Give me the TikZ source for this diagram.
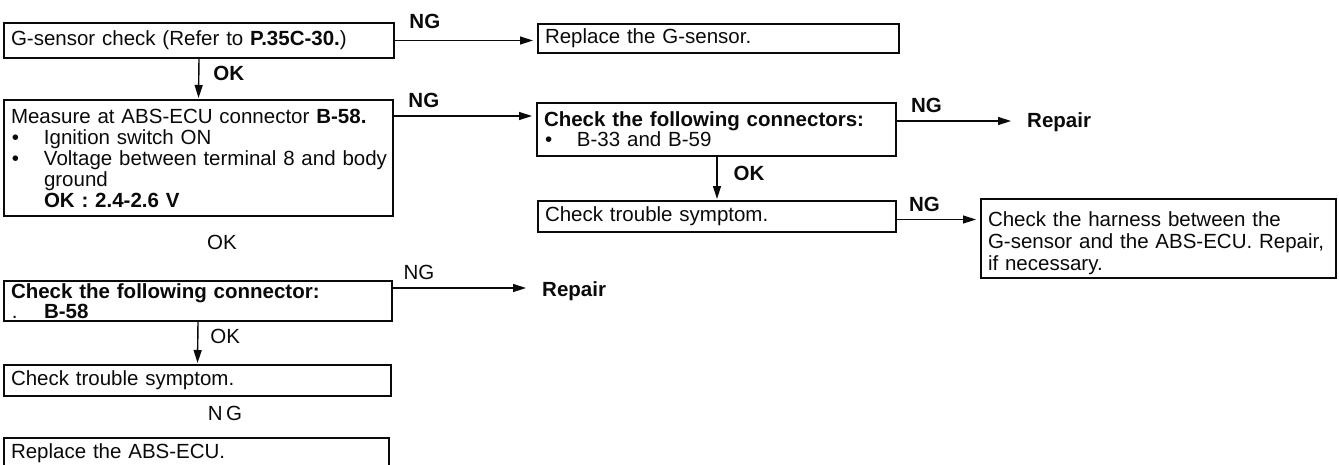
\documentclass[tikz,border=0pt]{standalone}
\usepackage{fontspec}
\setmainfont{Liberation Sans}
\usepackage{tikz}
\usetikzlibrary{arrows.meta,positioning,calc}
\usepackage{xcolor}
\definecolor{chartInk}{HTML}{0A0A0A}
\newcommand{\chartfont}{\fontsize{20.5}{21}\selectfont}
\newcommand{\bul}{\makebox[33pt][l]{\hspace{1pt}\textbullet}}
\tikzset{
  arr/.style={-{Triangle[length=13pt,width=8pt]}, line width=1.4pt, draw=chartInk, shorten >=4pt},
  varr/.style={arr, shorten >=1pt},
  stepbox/.style={draw=chartInk, line width=2pt, anchor=north west, align=left, inner xsep=7pt, inner ysep=0pt, font=\chartfont, text=chartInk},
  nglab/.style={font=\chartfont\bfseries, inner sep=2pt, text=chartInk},
  plainlab/.style={font=\chartfont, inner sep=2pt, text=chartInk},
  endlab/.style={font=\chartfont\bfseries, anchor=west, inner xsep=12pt, inner ysep=0pt, text=chartInk}
}
\begin{document}
\begin{tikzpicture}[x=1pt,y=-1pt]
  \useasboundingbox (0,0) rectangle (1339,464);
  \node[stepbox, text width=376pt, minimum height=35pt] (g) at (3,22) {\mbox{G-sensor check (Refer to \textbf{P.35C-30.})}};
  \node[stepbox, text width=347pt, minimum height=29pt] (rg) at (537,23) {Replace the G-sensor.};
  \node[stepbox, text width=375pt, minimum height=116pt] (m) at (3,99) {\mbox{Measure at ABS-ECU connector \textbf{B-58.}}\\
    \bul Ignition switch ON\\
    \mbox{\bul Voltage between terminal 8 and body}\\
    \hspace*{33pt}ground\\
    \hspace*{33pt}\textbf{OK : 2.4-2.6 V}};
  \node[stepbox, text width=345pt, minimum height=53pt, font=\fontsize{20.5}{17}\selectfont] (c) at (536,102) {\textbf{Check the following connectors:}\\
    \bul B-33 and B-59};
  \node[endlab] (rep1) at (1015,122) {Repair};
  \node[stepbox, text width=344pt, minimum height=31pt] (t) at (537,200) {Check trouble symptom.};
  \node[stepbox, text width=341pt, minimum height=79pt, font=\fontsize{20.5}{22}\selectfont] (h) at (980,198) {\rule{0pt}{25pt}Check the harness between the\\
    \mbox{G-sensor and the ABS-ECU. Repair,}\\
    if necessary.};
  \node[plainlab] (okm) at (222,242) {OK};
  \node[stepbox, text width=374pt, minimum height=40pt, font=\fontsize{20.5}{15}\selectfont] (c2) at (3,280) {\textbf{Check the following connector:}\\
    \makebox[33pt][l]{\hspace{1pt}.}\textbf{B-58}};
  \node[endlab] (rep2) at (530,291) {Repair};
  \node[stepbox, text width=373pt, minimum height=31pt] (t2) at (3,364) {Check trouble symptom.};
  \node[plainlab] (ngt) at (225,413) {N\,G};
  \node[stepbox, text width=371pt, minimum height=31pt] (r) at (3,437) {Replace the ABS-ECU.};
  \coordinate (gng) at (g.east);
  \coordinate (mng) at ([yshift=-17pt]m.north east);
  \coordinate (cng) at ([yshift=-19pt]c.north east);
  \coordinate (tng) at ([yshift=-3pt]t.east);
  \coordinate (c2ng) at ([yshift=-8pt]c2.north east);
  \draw[arr] (gng) -- node[nglab, pos=0.21, above=9pt] {NG} (gng -| rg.west);
  \draw[arr] (mng) -- node[nglab, pos=0.21, above=6pt] {NG} (mng -| c.west);
  \draw[arr] (cng) -- node[nglab, pos=0.25, above=6pt] {NG} (cng -| rep1.west);
  \draw[arr] (tng) -- node[nglab, pos=0.33, above=5pt] {NG} (tng -| h.west);
  \draw[arr] (c2ng) -- node[plainlab, pos=0.19, above=6pt] {NG} (c2ng -| rep2.west);
  \draw[varr] (g.south) -- node[nglab, right=12pt, yshift=6pt] {OK} (m.north);
  \draw[varr] (c.south -| t.north) -- node[nglab, right=14pt, yshift=5pt] {OK} (t.north);
  \draw[varr] (c2.south) -- node[plainlab, right=10pt, yshift=7pt] {OK} (t2.north);
\end{tikzpicture}
\end{document}
